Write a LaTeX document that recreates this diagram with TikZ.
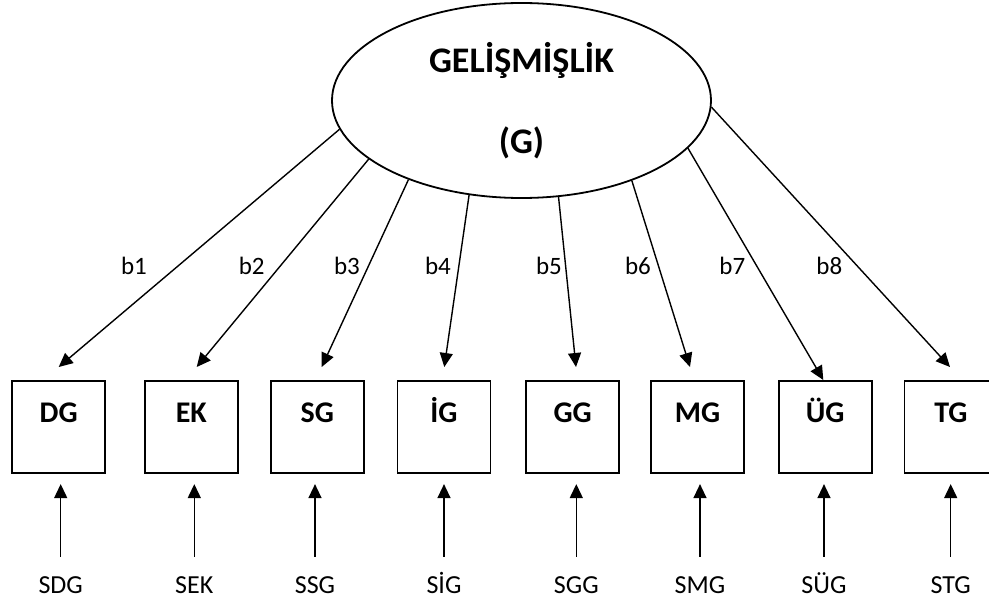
\documentclass[tikz,border=0pt]{standalone}
\usepackage{fontspec}
\setmainfont{Carlito}
\usetikzlibrary{arrows.meta,shapes}
\tikzstyle{latent}=[ellipse,draw,line width=1.8pt,minimum width=379pt,minimum height=195pt,inner sep=0pt,align=center,font=\bfseries\fontsize{36}{81}\selectfont]
\tikzstyle{observed}=[rectangle,draw,line width=1.6pt,minimum width=93pt,inner sep=0pt,text height=41.9pt,text depth=50.1pt,font=\bfseries\fontsize{30}{36}\selectfont]
\tikzstyle{edge}=[draw,line width=1.4pt,-{Triangle[length=14pt,width=13pt]}]
\tikzstyle{erroredge}=[edge,shorten <=21.3pt,shorten >=10.5pt]
\tikzstyle{weight}=[font=\fontsize{25}{30}\selectfont]
\tikzstyle{error}=[anchor=base,inner sep=0pt,text height=15pt,font=\fontsize{26}{31}\selectfont]

\begin{document}
\begin{tikzpicture}[x=1pt,y=-1pt]
\useasboundingbox (0,0) rectangle (989,602);

    \node[latent] (G) at (521.5,100.5) {GELİŞMİŞLİK\\(G)};

    \foreach \pos/ \name/ \txt in {{(58.7,426.8)/dg/DG}, {(191.3,426.8)/ek/EK}, {(317.3,426.8)/sg/SG}, {(444,426.8)/ig/İG}, {(572.7,426.8)/gg/GG}, {(697.5,426.8)/mg/MG}, {(825.2,426.8)/ug/ÜG}, {(951,426.8)/tg/TG}}
        \node[observed] (\name) at \pos {\txt};

    \foreach \pos/ \name/ \txt in {{(60.7,593.3)/sdg/SDG}, {(194.3,593.3)/sek/SEK}, {(315,593.3)/ssg/SSG}, {(444,593.3)/sig/SİG}, {(576.3,593.3)/sgg/SGG}, {(700,593.3)/smg/SMG}, {(824,593.3)/sug/SÜG}, {(950.7,593.3)/stg/STG}}
        \node[error] (\name) at \pos {\txt};

    % loadings from the latent variable
    \foreach \dest/ \ang/ \off/ \gap in {dg/189.5/0/13, ek/201/5.4/13, sg/215.9/4.4/13, ig/241.5/0.3/13, gg/291.5/3.3/13, mg/324.4/-7.5/13, ug/344.5/-1.9/0, tg/358.5/-1/13}
        \path[edge] (G.\ang) -- ([xshift=\off pt,yshift=\gap pt]\dest.north);

    \foreach \pos/ \name/ \txt in {{(134,266)/w1/b1}, {(251.7,266)/w2/b2}, {(347,266)/w3/b3}, {(438,266)/w4/b4}, {(549,266)/w5/b5}, {(638,266)/w6/b6}, {(732.3,266)/w7/b7}, {(829.3,266)/w8/b8}}
        \node[weight] (\name) at \pos {\txt};

    % error terms
    \foreach \source/ \dest in {sdg/dg, sek/ek, ssg/sg, sig/ig, sgg/gg, smg/mg, sug/ug, stg/tg}
        \path[erroredge] (\source.north) -- (\source.north |- \dest.south);

\end{tikzpicture}
\end{document}
